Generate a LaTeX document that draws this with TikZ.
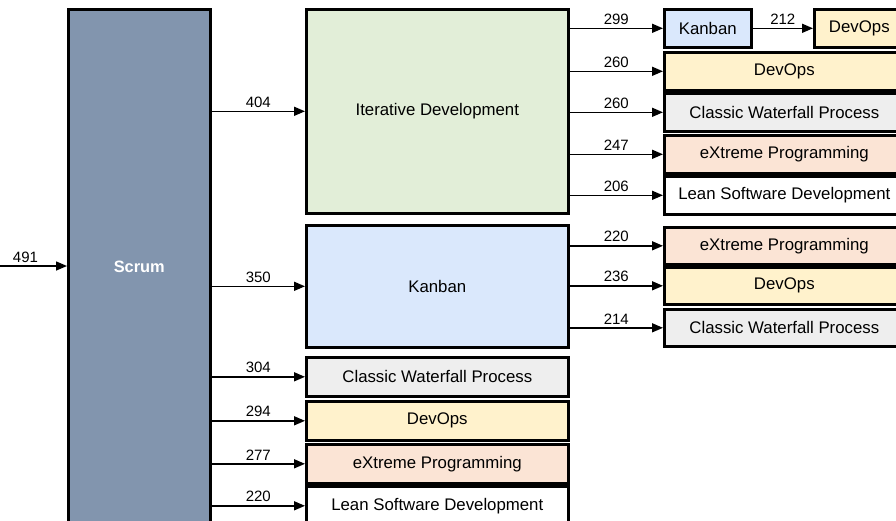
\documentclass[tikz,border=0pt]{standalone}
\usepackage{fontspec}
\setmainfont{Liberation Sans}
\usepackage{xcolor}
\definecolor{scrumfill}{HTML}{8295AE}
\definecolor{iterfill}{HTML}{E2EED8}
\definecolor{kanbanfill}{HTML}{DAE8FC}
\definecolor{devopsfill}{HTML}{FFF2CC}
\definecolor{waterfill}{HTML}{EEEEEE}
\definecolor{xpfill}{HTML}{FBE4D5}
\definecolor{leanfill}{HTML}{FFFFFF}
\usepackage{tikz}
\usetikzlibrary{arrows.meta}

\begin{document}
\begin{tikzpicture}[x=1pt, y=-1pt,
  box/.style={draw=black, line width=2.6pt, anchor=north west, inner sep=0pt,
    font=\fontsize{16.8}{20}\selectfont},
  flow/.style={line width=1.5pt, -{Triangle[length=11pt,width=9pt]}},
  num/.style={above, inner sep=3pt, font=\fontsize{15}{18}\selectfont}]
  \useasboundingbox (0,0) rectangle (896,520);
  \clip (0,0) rectangle (896,520);

  % Root
  \node[box, fill=scrumfill, minimum width=142pt, minimum height=516pt,
    text=white, font=\bfseries\fontsize{16.4}{20}\selectfont] (scrum) at (67,8) {Scrum};
  \coordinate (in) at (0,266);
  \draw[flow] (in) -- node[num, pos=0.38] {491} (in -| scrum.west);

  % Second level
  \node[box, fill=iterfill, minimum width=262pt, minimum height=204pt] (iter) at (305,8) {Iterative Development};
  \node[box, fill=kanbanfill, minimum width=262pt, minimum height=122pt] (kanban) at (305,224) {Kanban};
  \foreach \name/\txt/\col/\y in {water/Classic Waterfall Process/waterfill/356,
      devops/DevOps/devopsfill/400, xp/eXtreme Programming/xpfill/443,
      lean/Lean Software Development/leanfill/485}
    \node[box, fill=\col, minimum width=262pt, minimum height=39pt] (\name) at (305,\y) {\txt};
  \foreach \name/\num in {iter/404, kanban/350, water/304, devops/294, xp/277, lean/220}
    \draw[flow] (scrum.east |- \name.west) -- node[num] {\num} (\name.west);

  % Third level, after Iterative Development
  \node[box, fill=kanbanfill, minimum width=87pt, minimum height=38pt] (itkanban) at (663,8) {Kanban};
  \node[box, fill=devopsfill, minimum width=90pt, minimum height=38pt] (itkdevops) at (813,8) {DevOps};
  \draw[flow] (itkanban) -- node[num] {212} (itkdevops);
  \foreach \name/\txt/\col/\y in {itdevops/DevOps/devopsfill/51,
      itwater/Classic Waterfall Process/waterfill/92, itxp/eXtreme Programming/xpfill/134,
      itlean/Lean Software Development/leanfill/175}
    \node[box, fill=\col, minimum width=240pt, minimum height=38pt] (\name) at (663,\y) {\txt};
  \foreach \name/\num in {itkanban/299, itdevops/260, itwater/260, itxp/247, itlean/206}
    \draw[flow] (iter.east |- \name.west) -- node[num] {\num} (\name.west);

  % Third level, after Kanban
  \foreach \name/\txt/\col/\y in {kxp/eXtreme Programming/xpfill/226,
      kdevops/DevOps/devopsfill/266, kwater/Classic Waterfall Process/waterfill/308}
    \node[box, fill=\col, minimum width=240pt, minimum height=37pt] (\name) at (663,\y) {\txt};
  \foreach \name/\num in {kxp/220, kdevops/236, kwater/214}
    \draw[flow] (kanban.east |- \name.west) -- node[num] {\num} (\name.west);
\end{tikzpicture}
\end{document}
